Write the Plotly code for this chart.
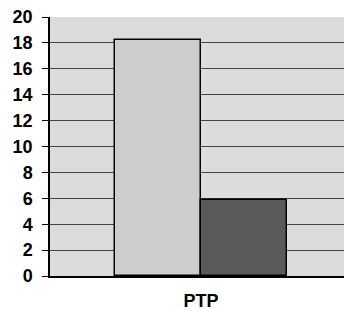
import plotly.graph_objects as go

categories = ["PTP"]
series_names = ["Series 1", "Series 2"]
series_values = [[18.2], [5.9]]
bar_colors = ["#cdcdcd", "#5a5a5a"]
y_ticks = [0, 2, 4, 6, 8, 10, 12, 14, 16, 18, 20]

offsets = [-0.5, 0.5]
fig = go.Figure()
for name, vals, col, off in zip(series_names, series_values, bar_colors, offsets):
    fig.add_trace(go.Bar(
        x=[i + off for i in range(len(categories))], y=vals, name=name, width=1.0,
        marker=dict(color=col, line=dict(color="#000000", width=1.5)),
    ))

fig.update_layout(
    width=344, height=311,
    margin=dict(l=50, r=0, t=17, b=35),
    paper_bgcolor="white", plot_bgcolor="#dcdcdc",
    showlegend=False, bargap=0,
    font=dict(family="Liberation Sans, Arial, sans-serif", color="black"),
)
fig.update_xaxes(
    range=[-1.756, 1.663], tickvals=list(range(len(categories))), ticktext=categories,
    tickfont=dict(size=18, family="Liberation Sans, Arial", weight="bold"),
    showgrid=False, zeroline=False, showline=True, linecolor="black", linewidth=1.5,
    ticks="", ticklabelstandoff=8, automargin=False,
)
fig.update_yaxes(
    range=[0, 20], tickvals=y_ticks,
    tickfont=dict(size=18, family="Liberation Sans, Arial", weight="bold"),
    showgrid=True, gridcolor="#444444", gridwidth=1,
    zeroline=False, showline=True, linecolor="black", linewidth=1.5,
    ticks="outside", ticklen=6, tickcolor="black", ticklabelstandoff=6,
    automargin=False,
)
fig.write_html(
    "out.html",
    config={"displayModeBar": False},
    post_script="document.body.style.margin='0';document.body.style.overflow='hidden';",
)
